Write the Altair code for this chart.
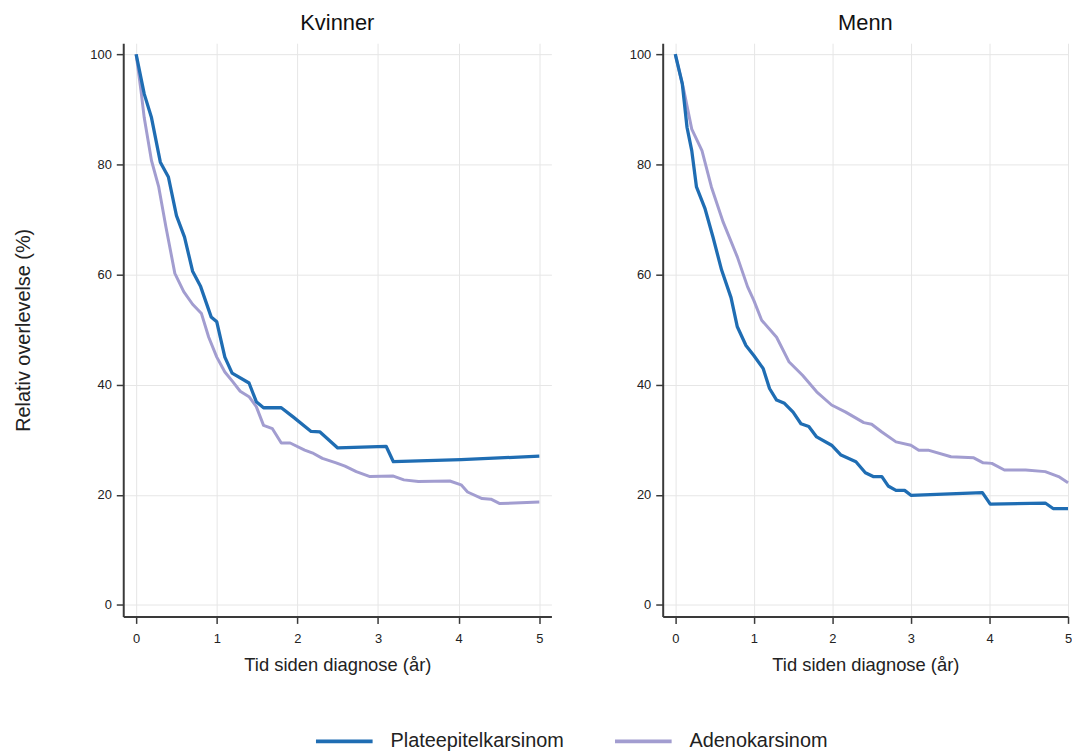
import altair as alt
import pandas as pd

series_names = ["Plateepitelkarsinom", "Adenokarsinom"]
series_colors = ["#1f6db3", "#a29dd0"]
panels = ["Kvinner", "Menn"]

# Kvinner - Plateepitelkarsinom
kv_pl_t = [0, 0.10, 0.19, 0.30, 0.40, 0.50, 0.60, 0.70, 0.80, 0.93, 1.0, 1.10, 1.19, 1.40, 1.49, 1.58,
           1.80, 1.95, 2.17, 2.28, 2.50, 3.10, 3.19, 4.03, 5.0]
kv_pl_v = [100, 92.8, 88.5, 80.4, 77.7, 70.7, 66.8, 60.6, 57.8, 52.3, 51.4, 45.0, 42.1, 40.3, 36.9, 35.8,
           35.8, 34.1, 31.5, 31.4, 28.5, 28.8, 26.0, 26.4, 27.0]

# Kvinner - Adenokarsinom
kv_ad_t = [0, 0.06, 0.10, 0.19, 0.28, 0.37, 0.48, 0.59, 0.70, 0.81, 0.90, 1.0, 1.10, 1.20, 1.29, 1.40,
           1.49, 1.58, 1.69, 1.80, 1.91, 2.09, 2.20, 2.31, 2.48, 2.59, 2.73, 2.90, 3.19, 3.32, 3.50,
           3.89, 4.03, 4.11, 4.29, 4.40, 4.51, 5.0]
kv_ad_v = [100, 93.4, 88.5, 80.7, 75.9, 68.6, 60.2, 56.9, 54.6, 52.9, 48.6, 45.0, 42.3, 40.5, 38.8, 37.8,
           36.0, 32.6, 32.0, 29.4, 29.4, 28.1, 27.5, 26.6, 25.8, 25.2, 24.2, 23.3, 23.4, 22.7, 22.4,
           22.5, 21.8, 20.5, 19.3, 19.2, 18.4, 18.7]

# Menn - Plateepitelkarsinom
mn_pl_t = [0, 0.09, 0.15, 0.21, 0.27, 0.38, 0.48, 0.59, 0.71, 0.79, 0.90, 1.0, 1.12, 1.20, 1.29, 1.39,
           1.50, 1.60, 1.70, 1.80, 1.99, 2.11, 2.30, 2.42, 2.52, 2.63, 2.71, 2.81, 2.92, 3.0, 3.91,
           4.01, 4.71, 4.81, 5.0]
mn_pl_v = [100, 94.6, 86.7, 82.5, 75.9, 71.9, 66.8, 60.8, 55.8, 50.5, 47.1, 45.3, 42.9, 39.3, 37.2, 36.6,
           35.0, 32.9, 32.4, 30.5, 29.0, 27.2, 26.0, 24.0, 23.3, 23.3, 21.6, 20.8, 20.8, 19.9, 20.4,
           18.3, 18.5, 17.5, 17.5]

# Menn - Adenokarsinom
mn_ad_t = [0, 0.11, 0.21, 0.34, 0.46, 0.61, 0.79, 0.92, 1.0, 1.10, 1.29, 1.45, 1.62, 1.80, 1.99, 2.17,
           2.40, 2.50, 2.63, 2.81, 3.0, 3.10, 3.22, 3.51, 3.80, 3.92, 4.03, 4.19, 4.46, 4.71, 4.88, 5.0]
mn_ad_v = [100, 93.4, 86.4, 82.5, 75.9, 69.5, 63.2, 57.8, 55.3, 51.7, 48.6, 44.1, 41.7, 38.7, 36.3, 35.0,
           33.1, 32.8, 31.4, 29.6, 29.0, 28.1, 28.1, 26.9, 26.7, 25.8, 25.7, 24.5, 24.5, 24.2, 23.3, 22.2]

x_ticks = [0, 1, 2, 3, 4, 5]
y_ticks = [0, 20, 40, 60, 80, 100]

FONT = "Liberation Sans"


def frame(panel, serie, ts, vs):
    return pd.DataFrame({"panel": panel, "serie": serie, "t": ts, "v": vs,
                         "o": list(range(len(ts)))})


df = pd.concat([
    frame("Kvinner", series_names[1], kv_ad_t, kv_ad_v),
    frame("Kvinner", series_names[0], kv_pl_t, kv_pl_v),
    frame("Menn", series_names[1], mn_ad_t, mn_ad_v),
    frame("Menn", series_names[0], mn_pl_t, mn_pl_v),
], ignore_index=True)

color_scale = alt.Scale(domain=series_names, range=series_colors)


def panel_chart(name, xdom, width, ytitle, show_legend):
    base = alt.Chart(df).transform_filter(alt.datum.panel == name)
    xenc = alt.X("t:Q", scale=alt.Scale(domain=xdom, nice=False, zero=False),
                 axis=alt.Axis(values=x_ticks, format="d", title="Tid siden diagnose (år)",
                               titleFontSize=18.5, titlePadding=10))
    if ytitle:
        yaxis = alt.Axis(values=y_ticks, format="d", title=ytitle, titleFontSize=20, titlePadding=57)
    else:
        yaxis = alt.Axis(values=y_ticks, format="d", title=None)
    yenc = alt.Y("v:Q", scale=alt.Scale(domain=[-2.1, 102], nice=False, zero=False), axis=yaxis)
    if show_legend:
        leg = alt.Legend(orient="none", legendX=192, legendY=672, direction="horizontal",
                         title=None, symbolType="stroke", symbolSize=3249,
                         symbolStrokeWidth=4, labelFontSize=20, labelOffset=16,
                         labelLimit=400, columnPadding=43, labelColor="#222222",
                         labelFont=FONT)
    else:
        leg = None
    cenc = alt.Color("serie:N", scale=color_scale, legend=leg,
                     sort=series_names)
    ad = base.transform_filter(alt.datum.serie == series_names[1]).mark_line(
        strokeWidth=3, strokeJoin="round").encode(x=xenc, y=yenc, color=cenc, order="o:Q")
    pl = base.transform_filter(alt.datum.serie == series_names[0]).mark_line(
        strokeWidth=3.3, strokeJoin="round").encode(x=xenc, y=yenc, color=cenc, order="o:Q")
    return alt.layer(ad, pl).properties(
        width=width, height=577,
        title=alt.TitleParams(name, fontSize=22, fontWeight="normal", anchor="middle",
                              offset=8, font=FONT, color="#111111"))


left = panel_chart("Kvinner", [-0.16, 5.15], 431, "Relativ overlevelse (%)", True)
right = panel_chart("Menn", [-0.16, 5.0], 408, None, False)

chart = alt.hconcat(left, right, spacing=78).properties(
    padding={"left": 5, "top": 2, "right": 0, "bottom": 0}
).configure_view(stroke=None).configure_axis(
    domainColor="#3a3a3a", domainWidth=2, tickColor="#3a3a3a", tickWidth=1.5, tickSize=7,
    gridColor="#e6e6e6", gridWidth=1, labelFontSize=13, labelColor="#222222",
    labelPadding=5, labelFont=FONT, titleFont=FONT, titleFontWeight="normal",
    titleColor="#222222", labelFlush=False, labelOverlap=False
).configure_axisX(labelPadding=9)

chart.save("out.html", embed_options={"renderer": "svg", "actions": False})
